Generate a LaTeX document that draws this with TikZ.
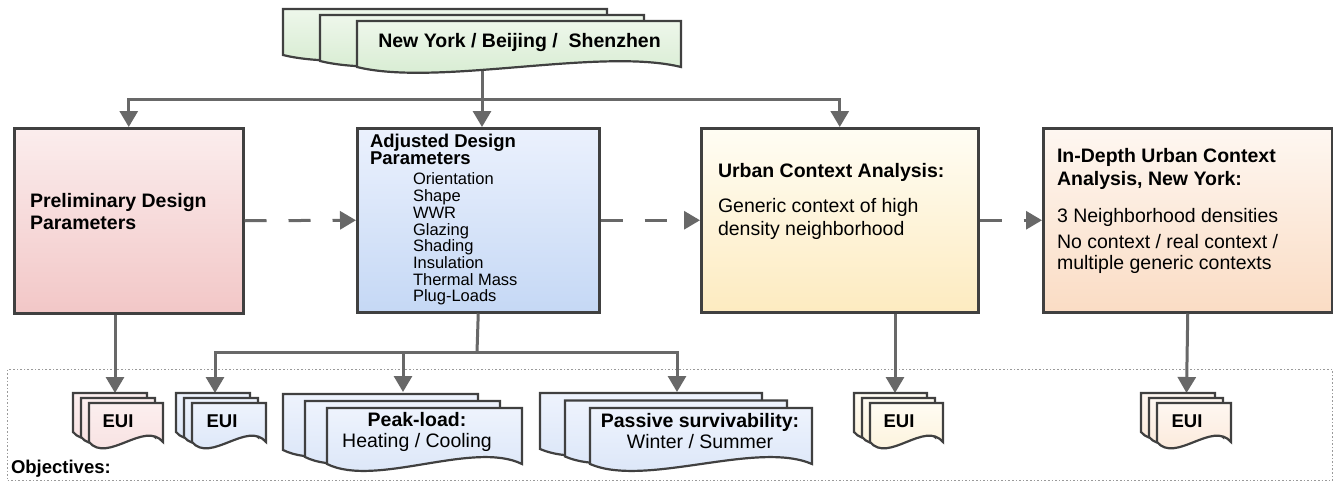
\documentclass[tikz,border=0pt]{standalone}
\usepackage{fontspec}
\setmainfont{Liberation Sans}
\usetikzlibrary{arrows.meta}
\definecolor{bordc}{HTML}{404040}
\definecolor{connc}{HTML}{686868}
\definecolor{framec}{HTML}{9A9A9A}
\definecolor{pinkT}{HTML}{FBEDED}\definecolor{pinkB}{HTML}{F2C7C7}
\definecolor{blueT}{HTML}{EBF1FD}\definecolor{blueB}{HTML}{C5D8F5}
\definecolor{yelT}{HTML}{FFFDF4}\definecolor{yelB}{HTML}{FDEBC0}
\definecolor{peaT}{HTML}{FEF7F1}\definecolor{peaB}{HTML}{FADCC4}
\definecolor{spinkT}{HTML}{FCEFEF}\definecolor{spinkB}{HTML}{F7DEDE}
\definecolor{sblueT}{HTML}{EEF3FD}\definecolor{sblueB}{HTML}{D8E4F7}
\definecolor{syelT}{HTML}{FFFCF3}\definecolor{syelB}{HTML}{FCF0D6}
\definecolor{speaT}{HTML}{FEF7F1}\definecolor{speaB}{HTML}{FBE6D5}
\definecolor{sgreT}{HTML}{EEF7EB}\definecolor{sgreB}{HTML}{D3EACD}
\newcommand\myfs[2]{\fontsize{#1}{#2}\selectfont\lineskiplimit=-20pt\relax}
% one sheet of a document stack: x y w h k topcolour bottomcolour
\newcommand\docsheet[7]{%
  \pgfmathsetmacro\dsR{#1+#3}%
  \pgfmathsetmacro\dsB{#2+#4}%
  \pgfmathsetmacro\dsCa{#1+0.75*#3}%
  \pgfmathsetmacro\dsCb{#1+0.25*#3}%
  \pgfmathsetmacro\dsUp{#2+#4-#5}%
  \pgfmathsetmacro\dsDn{#2+#4+#5}%
  \path[sheetline, top color=#6, bottom color=#7] (#1,#2) -- (\dsR,#2) -- (\dsR,\dsB)
    .. controls (\dsCa,\dsUp) and (\dsCb,\dsDn) .. (#1,\dsB) -- cycle;}
% stack of three sheets: front x y w h k dx dy topcolour bottomcolour
\newcommand\docstack[9]{%
  \pgfmathsetmacro\dsXa{#1-2*#6}\pgfmathsetmacro\dsYa{#2-2*#7}%
  \pgfmathsetmacro\dsXb{#1-#6}\pgfmathsetmacro\dsYb{#2-#7}%
  \docsheet{\dsXa}{\dsYa}{#3}{#4}{#5}{#8}{#9}%
  \docsheet{\dsXb}{\dsYb}{#3}{#4}{#5}{#8}{#9}%
  \docsheet{#1}{#2}{#3}{#4}{#5}{#8}{#9}}
\begin{document}
\begin{tikzpicture}[x=1pt,y=-1pt,
  >={Triangle[length=16pt,width=18pt]},
  conn/.style={draw=connc, line width=3pt},
  dconn/.style={conn, dash pattern=on 22pt off 22pt},
  box/.style={draw=bordc, line width=2.5pt, inner sep=0pt, anchor=north west},
  sheetline/.style={draw=bordc, line width=2.2pt, line join=miter},
  txt/.style={inner sep=0pt, outer sep=0pt, text=black},
  hdr/.style={txt, font=\bfseries\myfs{19.5}{22}, align=left, anchor=north west},
  body/.style={txt, font=\myfs{19.5}{23}, align=left, anchor=north west}]
\useasboundingbox (0,0) rectangle (1333,482);
\fill[white] (0,0) rectangle (1333,482);

% objectives frame
\node[draw=framec, line width=1.2pt, dash pattern=on 1.6pt off 2pt, inner sep=0pt,
  minimum width=1325pt, minimum height=111pt, anchor=north west] (objframe) at (7,369) {};

% main boxes
\node[box, top color=pinkT, bottom color=pinkB, minimum width=229pt, minimum height=185pt] (pre) at (13,127) {};
\node[box, top color=blueT, bottom color=blueB, minimum width=242pt, minimum height=184pt] (adj) at (356,127) {};
\node[box, top color=yelT, bottom color=yelB, minimum width=277pt, minimum height=184pt] (urb) at (700,127) {};
\node[box, top color=peaT, bottom color=peaB, minimum width=289pt, minimum height=184pt] (ind) at (1042,127) {};

% connection points on the document stacks
\coordinate (citybot) at (482,60);
\coordinate (split) at (482,99);
\coordinate (adjsplit) at (477,352);
\coordinate (euiAin) at (115,393);
\coordinate (euiBin) at (215,393);
\coordinate (peakin) at (403,392);
\coordinate (passin) at (677,392);
\coordinate (euiCin) at (895,393);
\coordinate (euiDin) at (1186.5,393);

% connectors
\draw[conn,->] (citybot) -- (citybot |- adj.north);
\draw[conn,->] (split) -| (pre.north);
\draw[conn,->] (split) -| (urb.north);
\draw[dconn,->] (pre.east) -- (adj.west);
\draw[dconn,->] (adj.east) -- (urb.west);
\draw[dconn,->] (urb.east) -- (ind.west);
\draw[conn,->] (euiAin |- pre.south) -- (euiAin);
\draw[conn] (adj.south) -- (adjsplit);
\draw[conn,->] (adjsplit) -| (euiBin);
\draw[conn,->] (adjsplit) -| (peakin);
\draw[conn,->] (adjsplit) -| (passin);
\draw[conn,->] (euiCin |- urb.south) -- (euiCin);
\draw[conn,->] (ind.south) -- (euiDin);

% document stacks
\docstack{357}{21}{324}{46}{20}{37}{6}{sgreT}{sgreB}
\docstack{89}{403}{74}{39}{22}{8}{5}{spinkT}{spinkB}
\docstack{192}{403}{74}{39}{22}{8}{5}{sblueT}{sblueB}
\docstack{327}{408}{195}{56}{24}{22}{7}{sblueT}{sblueB}
\docstack{590}{408}{222}{56}{24}{25}{7.5}{sblueT}{sblueB}
\docstack{870}{403}{73}{39}{22}{8}{5}{syelT}{syelB}
\docstack{1157}{403}{74}{39}{22}{8}{5}{speaT}{speaB}

% texts
\node[txt, font=\bfseries\myfs{19.5}{22}, anchor=base] (citytxt) at (519.5,47.3) {New York / Beijing / \ Shenzhen};
\node[hdr] (pretxt) at (30,193.8) {Preliminary Design\\Parameters};
\node[txt, font=\bfseries\myfs{18.5}{17}, align=left, anchor=north west] (adjhdr) at (370,134.5) {Adjusted Design\\Parameters};
\node[txt, font=\myfs{16.5}{16.7}, align=left, anchor=north west] (adjlist) at (413,173) {Orientation\\Shape\\WWR\\Glazing\\Shading\\Insulation\\Thermal Mass\\Plug-Loads};
\node[hdr] (urbhdr) at (718,163.8) {Urban Context Analysis:};
\node[body] (urbtxt) at (718,198.8) {Generic context of high\\density neighborhood};
\node[hdr, font=\bfseries\myfs{19.5}{23}] (indhdr) at (1057,148.8) {In-Depth Urban Context\\Analysis, New York:};
\node[body, font=\myfs{19.5}{21.7}] (indtxt) at (1057,208.5) {3 Neighborhood densities\\[3.9pt]No context / real context /\\multiple generic contexts};
\node[txt, font=\bfseries\myfs{18.5}{20}, anchor=base] (euiAtxt) at (118,427) {EUI};
\node[txt, font=\bfseries\myfs{18.5}{20}, anchor=base] (euiBtxt) at (222,427) {EUI};
\node[txt, font=\bfseries\myfs{18.5}{20}, anchor=base] (euiCtxt) at (899,427) {EUI};
\node[txt, font=\bfseries\myfs{18.5}{20}, anchor=base] (euiDtxt) at (1187,427) {EUI};
\node[txt, font=\myfs{19.5}{21}, align=center, anchor=north] (peaktxt) at (417,412.8) {\textbf{Peak-load:}\\Heating / Cooling};
\node[txt, font=\myfs{19.5}{21}, align=center, anchor=north] (passtxt) at (700,413.8) {\textbf{Passive survivability:}\\Winter / Summer};
\node[txt, font=\bfseries\myfs{18.5}{20}, anchor=base west] (objlbl) at (11,473) {Objectives:};
\end{tikzpicture}
\end{document}
